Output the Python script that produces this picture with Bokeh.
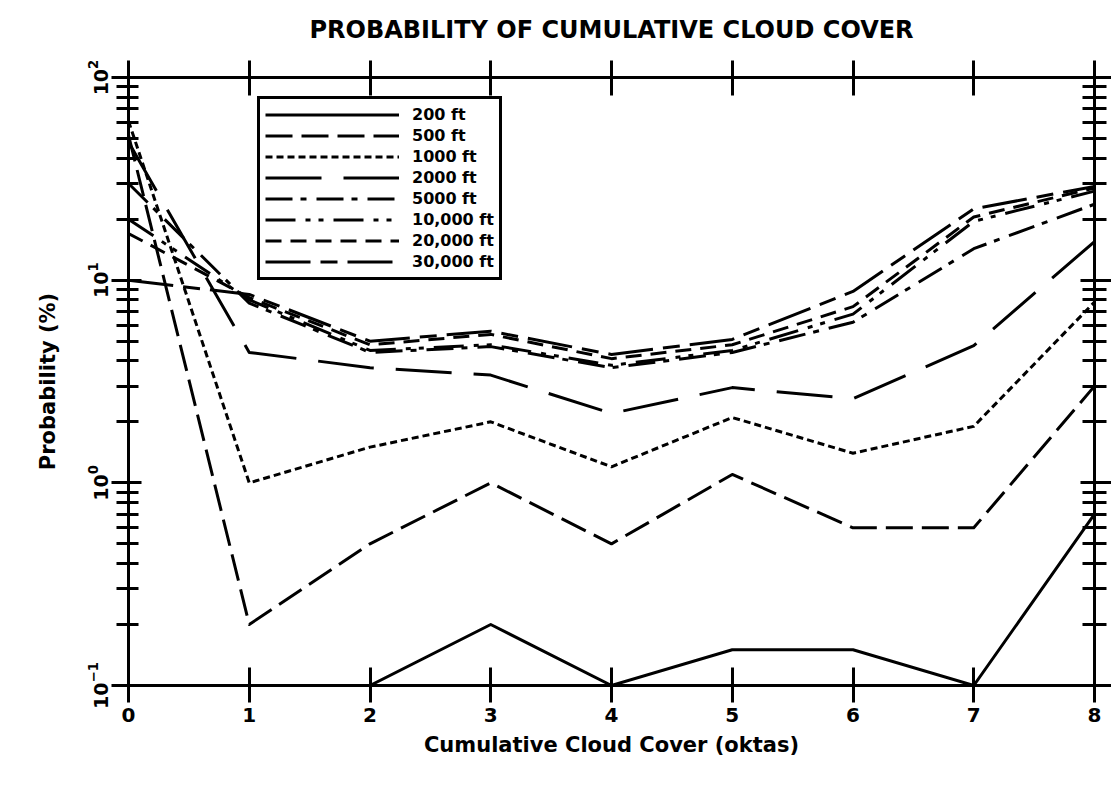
import numpy as np
from bokeh.plotting import figure
from bokeh.models import (LogAxis, LinearAxis, Legend, LegendItem, Range1d,
                          SingleIntervalTicker, LogTicker, CustomJSTickFormatter)
from bokeh.embed import file_html
from bokeh.resources import INLINE

# ---------------- data ----------------
okta = [0, 1, 2, 3, 4, 5, 6, 7, 8]
ft200 = [98.5, 0.0, 0.1, 0.2, 0.1, 0.15, 0.15, 0.1, 0.7]
ft500 = [52, 0.2, 0.5, 1.0, 0.5, 1.1, 0.6, 0.6, 3.0]
ft1000 = [61, 1.0, 1.5, 2.0, 1.2, 2.1, 1.4, 1.9, 7.8]
ft2000 = [48, 4.4, 3.7, 3.4, 2.2, 2.95, 2.6, 4.75, 15.5]
ft5000 = [30, 7.7, 4.4, 4.7, 3.7, 4.4, 6.2, 14.3, 23.7]
ft10000 = [20, 8.0, 4.5, 4.8, 3.8, 4.5, 6.8, 19.5, 27.5]
ft20000 = [17, 8.2, 4.8, 5.4, 4.1, 4.8, 7.4, 20.5, 28.5]
ft30000 = [10, 8.5, 5.0, 5.6, 4.3, 5.1, 8.8, 22.5, 29.0]

series_labels = ["200 ft", "500 ft", "1000 ft", "2000 ft", "5000 ft",
                 "10,000 ft", "20,000 ft", "30,000 ft"]
series_values = [ft200, ft500, ft1000, ft2000, ft5000, ft10000, ft20000, ft30000]
series_dashes = ["solid", "27 9", "7 4", "56 22", "27 8 6 10",
                 "30 10 5 8 5 10", "16 9", "45 10 17 10"]

title_text = "PROBABILITY OF CUMULATIVE CLOUD COVER"
x_title = "Cumulative Cloud Cover (oktas)"
y_title = "Probability (%)"

Y_MIN, Y_MAX = 0.1, 100.0
FONT = "DejaVu Sans"


def log_path(xv, yv, floor):
    """Zero values cannot be shown on a log axis: the pen drops to the floor."""
    xs, ys = [], []
    for x, y in zip(xv, yv):
        if y > 0:
            xs.append(x)
            ys.append(max(y, floor))
        else:
            if xs:
                xs.append(xs[-1])
                ys.append(floor)
            xs.append(x)
            ys.append(floor)
    return xs, ys


p = figure(frame_width=966, frame_height=608, y_axis_type="log",
           x_range=Range1d(0, 8), y_range=Range1d(Y_MIN, Y_MAX),
           output_backend="svg", toolbar_location=None,
           min_border_left=128, min_border_top=77, min_border_right=0,
           min_border_bottom=0, background_fill_color="white",
           border_fill_color="white")
p.outline_line_color = None
p.xgrid.visible = False
p.ygrid.visible = False

# title
p.title.text = title_text
p.title.align = "center"
p.title.vertical_align = "top"
p.title.text_font = FONT
p.title.text_font_style = "bold"
p.title.text_font_size = "24px"
p.title.text_color = "black"
p.title.standoff = 30

x_ticker = SingleIntervalTicker(interval=1, num_minor_ticks=0)
y_ticker = LogTicker(num_minor_ticks=10)
blank = CustomJSTickFormatter(code="return ''")


def style_common(ax):
    ax.axis_line_width = 3
    ax.axis_line_color = "black"
    ax.major_tick_line_width = 3
    ax.minor_tick_line_width = 3
    ax.major_label_text_font = FONT
    ax.major_label_text_font_style = "bold"
    ax.major_label_text_color = "black"
    ax.axis_label_text_font = FONT
    ax.axis_label_text_font_style = "bold"
    ax.axis_label_text_color = "black"


# bottom x axis
xa = p.xaxis[0]
xa.ticker = x_ticker
style_common(xa)
xa.major_tick_in = 18
xa.major_tick_out = 17
xa.minor_tick_in = 0
xa.minor_tick_out = 0
xa.major_label_text_font_size = "20px"
xa.major_label_standoff = 5
xa.axis_label = x_title
xa.axis_label_text_font_size = "21px"
xa.axis_label_standoff = 8

# left y axis
ya = p.yaxis[0]
ya.ticker = y_ticker
style_common(ya)
ya.major_tick_in = 13
ya.major_tick_out = 17
ya.minor_tick_in = 10
ya.minor_tick_out = 12
ya.major_label_text_font_size = "19px"
ya.major_label_orientation = "parallel"
ya.major_label_standoff = 4
ya.axis_label = y_title
ya.axis_label_text_font_size = "21px"
ya.axis_label_standoff = 24

# top axis
ta = LinearAxis(ticker=x_ticker, formatter=blank)
style_common(ta)
ta.major_tick_in = 18
ta.major_tick_out = 17
ta.minor_tick_in = 0
ta.minor_tick_out = 0
ta.major_label_standoff = 0
p.add_layout(ta, "above")

# right axis
ra = LogAxis(ticker=y_ticker, formatter=blank)
style_common(ra)
ra.major_tick_in = 14
ra.major_tick_out = 17
ra.minor_tick_in = 12
ra.minor_tick_out = 12
ra.major_label_standoff = 0
p.add_layout(ra, "right")

items = []
for label, vals, dash in zip(series_labels, series_values, series_dashes):
    xs, ys = log_path(okta, vals, Y_MIN)
    r = p.line(xs, ys, line_color="black", line_width=3, line_dash=dash,
               line_join="round")
    items.append(LegendItem(label=label, renderers=[r]))

legend = Legend(items=items, location=(129, 405), glyph_width=134,
                glyph_height=21, label_height=21, label_standoff=13,
                spacing=0, padding=5, margin=0,
                border_line_color="black", border_line_width=3,
                border_line_alpha=1.0,
                label_text_font=FONT, label_text_font_style="bold",
                label_text_font_size="16px", label_text_color="black",
                background_fill_color="white", background_fill_alpha=1.0)
p.add_layout(legend)

open("out.html", "w").write(file_html(p, INLINE))
